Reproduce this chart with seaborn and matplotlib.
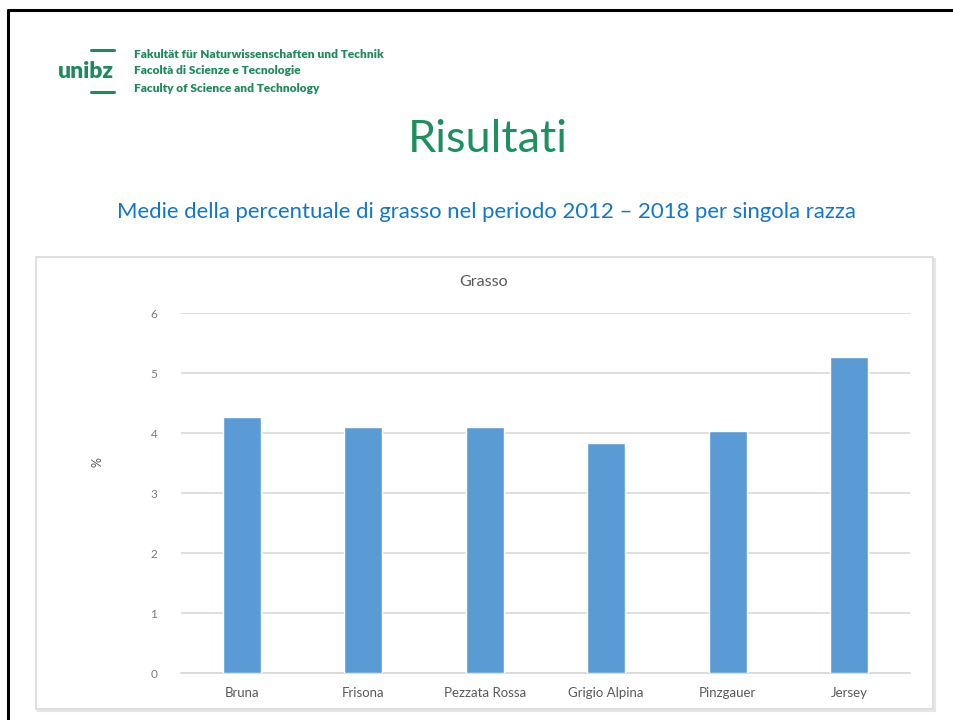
import matplotlib
matplotlib.use("Agg")
import matplotlib.pyplot as plt
import seaborn as sns
import pandas as pd
from matplotlib.patches import Rectangle
from matplotlib.lines import Line2D

categories = ["Bruna", "Frisona", "Pezzata Rossa", "Grigio Alpina", "Pinzgauer", "Jersey"]
values = [4.27, 4.10, 4.10, 3.83, 4.03, 5.27]
yticks = [0, 1, 2, 3, 4, 5, 6]

sns.set_theme(style="white")
plt.rcParams['font.family'] = ['Lato', 'DejaVu Sans']

W, H = 954, 720
fig = plt.figure(figsize=(W / 100, H / 100), dpi=100)
fig.patch.set_facecolor("white")

def fx(x):
    return x / W

def fy(y):
    return 1 - y / H

# slide border
fig.add_artist(Line2D([fx(8), fx(954)], [fy(10), fy(10)], color="black", lw=2.2))
fig.add_artist(Line2D([fx(8), fx(8)], [fy(10), fy(720)], color="black", lw=2.2))

# logo
green = "#1f8a5e"
fig.text(fx(58), fy(72), "unibz", color=green, fontsize=16.5, fontweight="heavy",
         ha="left", va="center")
fig.add_artist(Line2D([fx(91), fx(114)], [fy(50), fy(50)], color=green, lw=2.2))
fig.add_artist(Line2D([fx(91), fx(114)], [fy(92), fy(92)], color=green, lw=2.2))
for yy, t in [(54, "Fakultät für Naturwissenschaften und Technik"),
              (71, "Facoltà di Scienze e Tecnologie"),
              (89, "Faculty of Science and Technology")]:
    fig.text(fx(134), fy(yy), t, color=green, fontsize=8.6, fontweight="heavy",
             ha="left", va="center")

# slide title and subtitle
fig.text(fx(488), fy(140), "Risultati", color="#1f8f5f", fontsize=32.5,
         ha="center", va="center")
fig.text(fx(487), fy(212), "Medie della percentuale di grasso nel periodo 2012 \u2013 2018 per singola razza",
         color="#1277c6", fontsize=15.9, ha="center", va="center")

# chart frame (with faint shadow)
fig.add_artist(Rectangle((fx(38), fy(711)), fx(897), 452 / H, transform=fig.transFigure,
                         facecolor="none", edgecolor="#e6e6e6", lw=1.5, zorder=-2))
fig.add_artist(Rectangle((fx(36), fy(709)), fx(897), 452 / H, transform=fig.transFigure,
                         facecolor="white", edgecolor="#d9d9d9", lw=1.2, zorder=-1))

fig.text(fx(484), fy(282), "Grasso", color="#595959", fontsize=11.5, ha="center", va="center")

ax = fig.add_axes([fx(181), fy(673.3), fx(910 - 181), (673.3 - 313) / H])
ax.set_zorder(2)
df = pd.DataFrame({"razza": categories, "grasso": values})
sns.barplot(data=df, x="razza", y="grasso", color="#5b9bd5", saturation=1,
            width=0.31, ax=ax, zorder=3)
ax.set_ylim(0, 6)
ax.set_yticks(yticks)
ax.set_yticklabels([str(v) for v in yticks])
ax.set_xlim(-0.5, len(categories) - 0.5)
ax.grid(axis="y", color="#d9d9d9", lw=1.2, zorder=0)
ax.grid(axis="x", visible=False)
ax.set_axisbelow(True)
for s in ["top", "right", "left"]:
    ax.spines[s].set_visible(False)
ax.spines["bottom"].set_color("#d9d9d9")
ax.spines["bottom"].set_linewidth(1.2)
ax.tick_params(axis="y", length=0, pad=17, labelsize=8.5, labelcolor="#7a7a7a")
ax.tick_params(axis="x", length=0, pad=10, labelsize=9.5, labelcolor="#595959")
ax.set_xlabel("")
ax.set_ylabel("")
ax.patch.set_alpha(0)
fig.text(fx(98), fy(462), "%", color="#595959", fontsize=9, rotation=90,
         ha="center", va="center")

fig.savefig("out.png", dpi=100, facecolor="white")
